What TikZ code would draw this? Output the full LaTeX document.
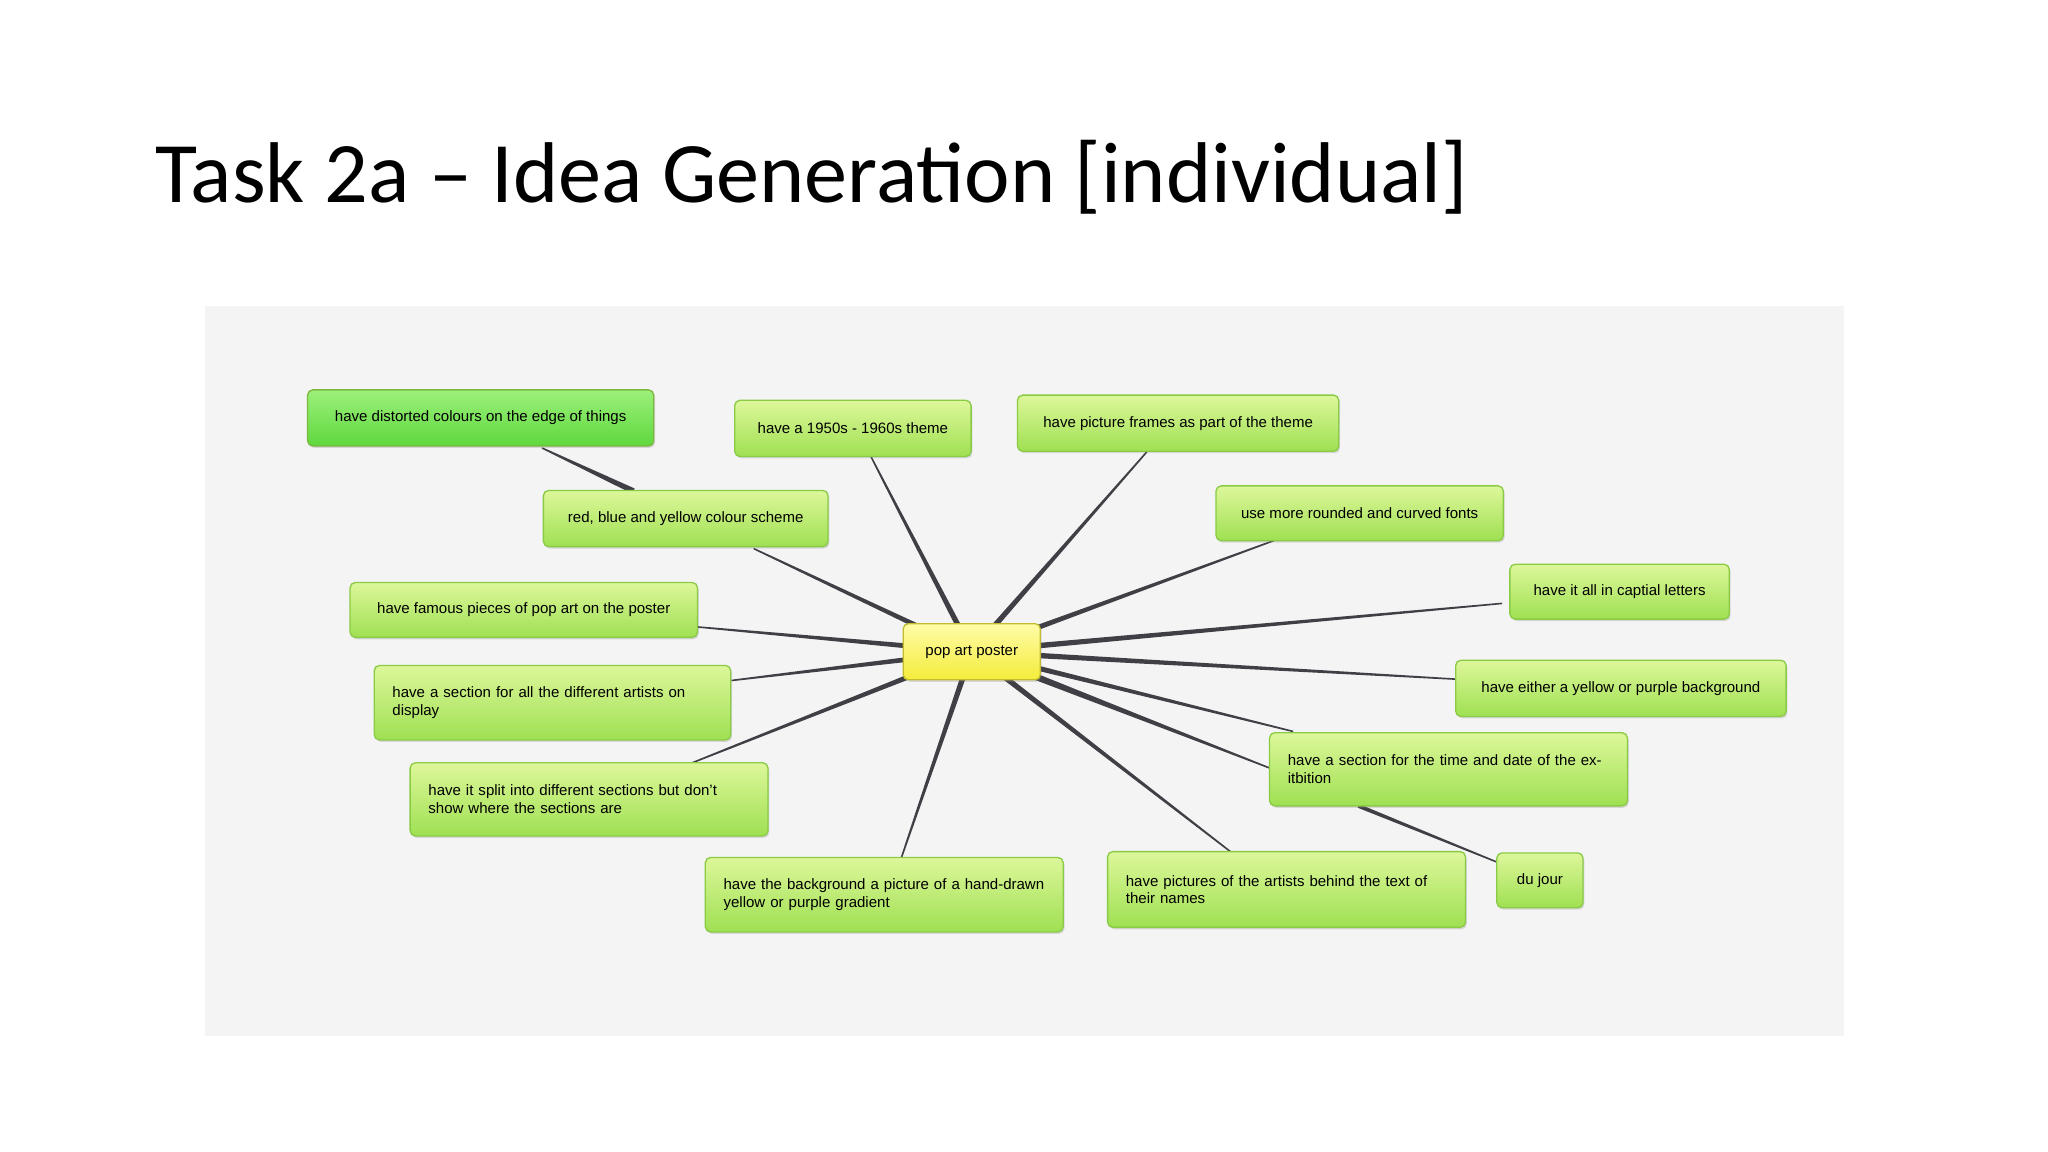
\documentclass[tikz,border=0pt]{standalone}
\usepackage{fontspec}
\setmainfont{Liberation Sans}
\newfontfamily\titlefont{Carlito}
\usetikzlibrary{calc,shadows}
\definecolor{panel}{HTML}{F4F4F4}
\definecolor{gtop}{HTML}{DDF79A}
\definecolor{gbot}{HTML}{9FE052}
\definecolor{gline}{HTML}{8ACB45}
\definecolor{btop}{HTML}{9CF07A}
\definecolor{bbot}{HTML}{5ED83E}
\definecolor{ytop}{HTML}{FFFCA8}
\definecolor{ybot}{HTML}{F4EC3A}
\definecolor{edge}{HTML}{3F3F45}
\tikzset{
  idea/.style={draw=gline,line width=1pt,rounded corners=4pt,top color=gtop,bottom color=gbot,
    font=\fontsize{11.5}{13.5}\selectfont,inner xsep=14pt,align=left,
    drop shadow={shadow xshift=1pt,shadow yshift=-1.5pt,opacity=0.25}},
  bright/.style={idea,top color=btop,bottom color=bbot,draw=gline!90!black},
  hub/.style={idea,top color=ytop,bottom color=ybot,draw=ybot!80!black},
}
\newcommand{\taper}[3]{\fill[edge] ($(#1)!#3!90:(#2)$) -- ($(#1)!#3!-90:(#2)$) -- ($(#2)!0.6pt!90:(#1)$) -- ($(#2)!0.6pt!-90:(#1)$) -- cycle;}
\begin{document}
\begin{tikzpicture}[x=1pt,y=-1pt]
\useasboundingbox (0,0) rectangle (1568,882);
\fill[white] (0,0) rectangle (1568,882);
\node[anchor=base west,inner sep=0,font=\titlefont\fontsize{66}{70}\selectfont] (title) at (119,155) {Task 2a – Idea Generation [individual]};
\fill[panel] (157,234) rectangle (1412,793);
\coordinate (c) at (744,499);
\coordinate (e1) at (667,350);
\coordinate (e2) at (878,346);
\coordinate (e3) at (975,414);
\coordinate (e4) at (1150,462);
\coordinate (e5) at (1115,520);
\coordinate (e6) at (990,560);
\coordinate (e7) at (972,588);
\coordinate (e8) at (942,652);
\coordinate (e9) at (690,657);
\coordinate (e10) at (530,584);
\coordinate (e11) at (560,521);
\coordinate (e12) at (534,480);
\coordinate (e13) at (577,420);
\coordinate (e14) at (415,343);
\coordinate (e15) at (485,376);
\coordinate (e16) at (1040,617);
\coordinate (e17) at (1146,660);
\foreach \e in {e1,e2,e3,e4,e5,e6,e8,e9,e10,e11,e12,e13}{\taper{c}{\e}{2.3pt}}
\taper{c}{e7}{3pt}
\taper{e15}{e14}{2.2pt}
\taper{e16}{e17}{1.5pt}
\node[bright,minimum width=265pt,minimum height=43pt] (n1) at (368,320) {have distorted colours on the edge of things};
\node[idea,minimum width=181pt,minimum height=43pt] (n2) at (653,328) {have a 1950s - 1960s theme};
\node[idea,minimum width=246pt,minimum height=43pt] (n3) at (902,324) {have picture frames as part of the theme};
\node[idea,minimum width=220pt,minimum height=42pt] (n4) at (1041,393) {use more rounded and curved fonts};
\node[idea,minimum width=168pt,minimum height=42pt] (n5) at (1240,453) {have it all in captial letters};
\node[idea,minimum width=253pt,minimum height=43pt] (n6) at (1241,527) {have either a yellow or purple background};
\node[idea,minimum width=274pt,minimum height=56pt,text width=246pt] (n7) at (1109,589) {have a section for the time and date of the exitbition};
\node[idea,minimum width=66pt,minimum height=42pt,inner xsep=4pt,align=center] (n8) at (1179,674) {du jour};
\node[idea,minimum width=274pt,minimum height=58pt,text width=246pt] (n9) at (985,681) {have pictures of the artists behind the text of their names};
\node[idea,minimum width=274pt,minimum height=57pt,text width=246pt] (n10) at (677,685) {have the background a picture of a hand-drawn yellow or purple gradient};
\node[idea,minimum width=274pt,minimum height=56pt,text width=246pt] (n11) at (451,612) {have it split into different sections but don't show where the sections are};
\node[idea,minimum width=273pt,minimum height=57pt,text width=245pt] (n12) at (423,538) {have a section for all the different artists on display};
\node[idea,minimum width=266pt,minimum height=42pt] (n13) at (401,467) {have famous pieces of pop art on the poster};
\node[idea,minimum width=218pt,minimum height=43pt] (n14) at (525,397) {red, blue and yellow colour scheme};
\node[hub,minimum width=105pt,minimum height=43pt,inner xsep=4pt,align=center] (hub) at (c) {pop art poster};
\end{tikzpicture}
\end{document}
